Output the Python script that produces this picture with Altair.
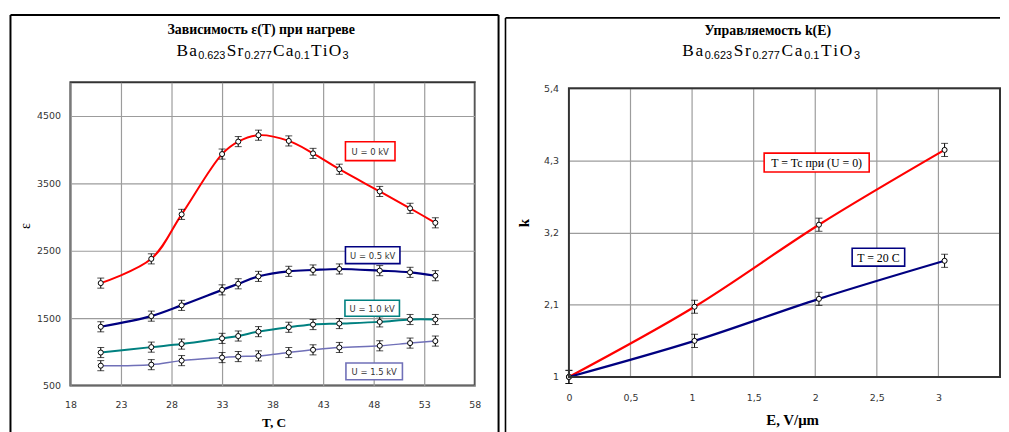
import altair as alt
import pandas as pd

# ---------------- data: left panel  eps(T) ----------------
T_C = [21, 26, 29, 33, 34.6, 36.6, 39.6, 42, 44.6, 48.6, 51.6, 54.1]
eps_u00 = [2020, 2380, 3040, 3935, 4120, 4215, 4130, 3945, 3710, 3380, 3130, 2915]
eps_u05 = [1372, 1530, 1690, 1920, 2010, 2120, 2195, 2215, 2230, 2205, 2180, 2130]
eps_u10 = [990, 1070, 1115, 1200, 1235, 1300, 1365, 1405, 1420, 1445, 1480, 1480]
eps_u15 = [795, 810, 870, 915, 930, 940, 990, 1030, 1065, 1090, 1130, 1160]
eps_err = 75
left_names = ["U = 0 kV", "U = 0.5 kV", "U = 1.0 kV", "U = 1.5 kV"]
left_colors = ["#ff0000", "#000080", "#008080", "#7070b8"]
left_widths = [2, 2.2, 2, 1.5]

# ---------------- data: right panel  k(E) ----------------
E_field = [0, 1.02, 2.03, 3.05]
k_tc = [1, 2.07, 3.32, 4.46]
k_20 = [1, 1.55, 2.19, 2.77]
k_err = 0.1
right_names = ["T = Tc при  (U = 0)", "T = 20 C"]
right_colors = ["#ff0000", "#000080"]

x_ticks_left = [18, 23, 28, 33, 38, 43, 48, 53, 58]
y_ticks_left = [500, 1500, 2500, 3500, 4500]
x_ticks_right = [0, 0.5, 1, 1.5, 2, 2.5, 3]
x_grid_right = [0.5, 1, 1.5, 2, 2.5, 3]
y_ticks_right = [1, 2.1, 3.2, 4.3, 5.4]

# ---------------- tables ----------------
rows = []
for name, vals in zip(left_names, [eps_u00, eps_u05, eps_u10, eps_u15]):
    for t, v in zip(T_C, vals):
        rows.append({"series": name, "T": t, "eps": v, "lo": v - eps_err, "hi": v + eps_err})
df_left = pd.DataFrame(rows)

rows = []
for name, vals in zip(right_names, [k_tc, k_20]):
    for e, v in zip(E_field, vals):
        rows.append({"series": name, "E": e, "k": v, "lo": v - k_err, "hi": v + k_err})
df_right = pd.DataFrame(rows)
df_grid_right = pd.DataFrame({"E": x_grid_right})

dummy = pd.DataFrame({"d": [0]})
SERIF = "Liberation Serif"
SANS = "Liberation Sans"
GRID = "#9c9c9c"


def axis(values, pad, expr=None, fmt=None, grid=True):
    kw = dict(values=values, title=None, ticks=False, domain=False, grid=grid,
              labelFont="DejaVu Sans", labelFontSize=9.5, labelColor="#333333",
              labelPadding=pad, labelOverlap=False, labelFlush=False)
    if grid:
        kw["gridColor"] = GRID
        kw["gridWidth"] = 1.2
    if expr:
        kw["labelExpr"] = expr
    if fmt:
        kw["format"] = fmt
    return alt.Axis(**kw)


def hrule(x1, x2, y, color="black", w=2.0, op=1.0):
    return alt.Chart(dummy).mark_rule(color=color, strokeWidth=w, strokeOpacity=op).encode(
        x=alt.value(x1), x2=alt.value(x2), y=alt.value(y))


def vrule(x, y1, y2, color="black", w=2.0):
    return alt.Chart(dummy).mark_rule(color=color, strokeWidth=w).encode(
        x=alt.value(x), y=alt.value(y1), y2=alt.value(y2))


def text(x, y, s, font=SERIF, size=12, weight="normal", color="black",
         align="center", baseline="middle", angle=0):
    kw = dict(text=s, font=font, fontSize=size, fontWeight=weight, color=color,
              align=align, baseline=baseline)
    if angle:
        kw["angle"] = angle
    return alt.Chart(dummy).mark_text(**kw).encode(x=alt.value(x), y=alt.value(y))


def box(cx, cy, w, h, color, label, font, size, tcolor):
    r = alt.Chart(dummy).mark_rect(fill="white", stroke=color, strokeWidth=1.6).encode(
        x=alt.value(cx - w / 2), x2=alt.value(cx + w / 2),
        y=alt.value(cy - h / 2), y2=alt.value(cy + h / 2))
    return [r, text(cx, cy + 0.5, label, font=font, size=size, color=tcolor)]


# chemical formula Ba0.623Sr0.277Ca0.1TiO3 built from pieces (main / subscript)
PIECES = [("B", False), ("a", False), ("0.623", True), ("S", False), ("r", False),
          ("0.277", True), ("C", False), ("a", False), ("0.1", True),
          ("T", False), ("i", False), ("O", False), ("3", True)]
SERIF_ADV = {"B": 667, "a": 444, "S": 556, "r": 333, "C": 667, "T": 611, "i": 278, "O": 722}
SANS_ADV = {"0": 556, "1": 556, "2": 556, "3": 556, "6": 556, "7": 556, ".": 278}
MAIN_FS, SUB_FS = 17.5, 11


def formula(cx, base_y, gap=1.2):
    widths = []
    for s, sub in PIECES:
        if sub:
            widths.append(sum(SANS_ADV[ch] for ch in s) * SUB_FS / 1000)
        else:
            widths.append(SERIF_ADV[s] * MAIN_FS / 1000)
    total = sum(widths) + gap * (len(PIECES) - 1)
    x = cx - total / 2
    out = []
    for (s, sub), w in zip(PIECES, widths):
        if sub:
            out.append(text(x, base_y + 3.2, s, font=SANS, size=SUB_FS,
                            align="left", baseline="alphabetic"))
        else:
            out.append(text(x, base_y, s, font=SERIF, size=MAIN_FS,
                            align="left", baseline="alphabetic"))
        x += w + gap
    return out


# ---------------- left chart ----------------
LW, LH = 408, 306
OXL, OYL = 69.5, 80.0  # page origin of the left plot
BOTTOM = 440.0         # frames run past the bottom edge of the window, as in the original

xL = alt.X("T:Q", scale=alt.Scale(domain=[18, 58], nice=False, zero=False),
           axis=axis(x_ticks_left, 14))
yScaleL = alt.Scale(domain=[500, 5000], nice=False, zero=False)
yAxL = axis(y_ticks_left, 10, fmt="d")

baseL = alt.Chart(df_left)
layersL = []
for name, c, w in zip(left_names, left_colors, left_widths):
    layersL.append(baseL.transform_filter(alt.datum.series == name)
                   .mark_line(color=c, strokeWidth=w, interpolate="catmull-rom")
                   .encode(x=xL, y=alt.Y("eps:Q", scale=yScaleL, axis=yAxL)))
layersL.append(baseL.mark_rule(color="black", strokeWidth=1).encode(
    x=xL, y=alt.Y("lo:Q", scale=yScaleL, axis=yAxL), y2="hi:Q"))
for f in ["lo", "hi"]:
    layersL.append(baseL.mark_tick(color="black", thickness=1, size=7, orient="horizontal").encode(
        x=xL, y=alt.Y(f + ":Q", scale=yScaleL, axis=yAxL)))
layersL.append(baseL.mark_point(shape="circle", filled=True, fill="white", stroke="black",
                                strokeWidth=1, size=26, opacity=1).encode(
    x=xL, y=alt.Y("eps:Q", scale=yScaleL, axis=yAxL)))

left_boxes = [(372, 149.5, 50, 19), (374.5, 254.5, 55, 17), (374, 308, 55, 16), (376, 371.7, 57, 17)]
for (cx, cy, w, h), name, c in zip(left_boxes, left_names, left_colors):
    layersL += box(cx - OXL, cy - OYL, w, h, c, name, "DejaVu Sans", 8.5, "#333333")

layersL.append(text(262 - OXL, 31.5 - OYL, "Зависимость ε(T) при нагреве", size=14,
                    weight="bold", baseline="alphabetic"))
layersL += formula(263.3 - OXL, 53.3 - OYL)
layersL.append(text(24.5 - OXL, 225 - OYL, "ε", size=14, angle=270))
layersL.append(text(275 - OXL, 424 - OYL, "T,  C", size=13.5, weight="bold"))
# outer frame
layersL.append(hrule(9 - OXL, 501.5 - OXL, 12 - OYL))
layersL.append(vrule(9 - OXL, 12 - OYL, BOTTOM - OYL))
layersL.append(vrule(501.5 - OXL, 12 - OYL, BOTTOM - OYL))
layersL.append(hrule(0, 10, 8.5 - OYL, op=0, w=1))

left = alt.layer(*layersL).properties(width=LW, height=LH)

# ---------------- right chart ----------------
# view origin shares the left view's top (page y 80); visible plot starts 6 px lower
RW = 435
OXR, OYR = 571.0, 80.0
R_TOP, R_BOT = 86.0 - OYR, 377.3 - OYR
comma = "replace(toString(datum.value), '.', ',')"
xR = alt.X("E:Q", scale=alt.Scale(domain=[0, 3.5], nice=False, zero=False),
           axis=axis(x_ticks_right, 16, expr=comma, grid=False))
yScaleR = alt.Scale(domain=[1, 5.4], nice=False, zero=False, range=[R_BOT, R_TOP])
yAxR = axis(y_ticks_right, 10.5, expr=comma)

baseR = alt.Chart(df_right)
layersR = []
layersR.append(alt.Chart(df_grid_right).mark_rule(color=GRID, strokeWidth=1.2).encode(
    x=xR, y=alt.value(R_TOP), y2=alt.value(R_BOT)))
for name, c in zip(right_names, right_colors):
    layersR.append(baseR.transform_filter(alt.datum.series == name)
                   .mark_line(color=c, strokeWidth=2.2, interpolate="catmull-rom")
                   .encode(x=xR, y=alt.Y("k:Q", scale=yScaleR, axis=yAxR)))
layersR.append(baseR.mark_rule(color="black", strokeWidth=1).encode(
    x=xR, y=alt.Y("lo:Q", scale=yScaleR, axis=yAxR), y2="hi:Q"))
for f in ["lo", "hi"]:
    layersR.append(baseR.mark_tick(color="black", thickness=1, size=7, orient="horizontal").encode(
        x=xR, y=alt.Y(f + ":Q", scale=yScaleR, axis=yAxR)))
layersR.append(baseR.mark_point(shape="circle", filled=True, fill="white", stroke="black",
                                strokeWidth=1, size=26, opacity=1).encode(
    x=xR, y=alt.Y("k:Q", scale=yScaleR, axis=yAxR)))
# plot border
layersR.append(alt.Chart(dummy).mark_rect(fill="white", fillOpacity=0, stroke="#333333",
                                          strokeWidth=2).encode(
    x=alt.value(0), x2=alt.value(RW), y=alt.value(R_TOP), y2=alt.value(R_BOT)))

right_boxes = [(821, 161, 106, 19), (883.3, 256.5, 53, 18)]
for (cx, cy, w, h), name, c in zip(right_boxes, right_names, right_colors):
    layersR += box(cx - OXR, cy - OYR, w, h, c, name, SERIF, 12, "black")

layersR.append(text(771.7 - OXR, 32.5 - OYR, "Управляемость k(E)", size=14,
                    weight="bold", baseline="alphabetic"))
layersR += formula(775 - OXR, 53.3 - OYR, gap=1.7)
layersR.append(text(526 - OXR, 222 - OYR, "k", size=15, weight="bold", angle=270))
layersR.append(text(796.7 - OXR, 420.5 - OYR, "E, V/μm", size=15, weight="bold"))
layersR.append(hrule(507 - OXR, 1006 - OXR, 15 - OYR, w=1.6))
layersR.append(vrule(507 - OXR, 15 - OYR, BOTTOM - OYR, w=1.6))
layersR.append(hrule(0, 10, 8.5 - OYR, op=0, w=1))

right = alt.layer(*layersR).properties(width=RW, height=R_BOT,
                                        view=alt.ViewBackground(strokeOpacity=0))

chart = (alt.hconcat(left, right, spacing=4)
         .properties(padding=0, background="white")
         .configure_view(stroke="#333333", strokeWidth=2))

chart.save("out.html", embed_options={"renderer": "svg", "actions": False})
